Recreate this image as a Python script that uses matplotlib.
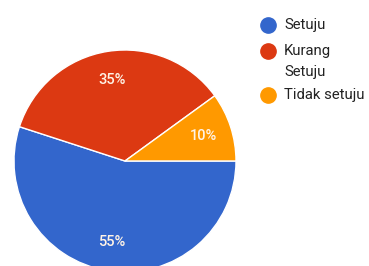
import matplotlib.pyplot as plt

labels = ['Setuju', 'Kurang\nSetuju', 'Tidak setuju']
values = [55, 35, 10]
colors = ['#3366cc', '#dc3912', '#ff9900']

plt.rcParams['font.family'] = ['Roboto', 'DejaVu Sans']

W, H = 369, 266
fig = plt.figure(figsize=(W / 100, H / 100), dpi=100)

# pie centre (125, 161) px, radius 111 px
cx, cy, r = 125, 161, 111
ax = fig.add_axes([(cx - r) / W, (H - cy - r) / H, 2 * r / W, 2 * r / H])
wedges, texts, autotexts = ax.pie(values, colors=colors, startangle=0, counterclock=False,
                                  autopct='%d%%', pctdistance=0.74,
                                  wedgeprops=dict(edgecolor='white', linewidth=1),
                                  textprops=dict(color='#fff3e6', fontsize=10.5,
                                                 fontweight='medium'))
ax.set_xlim(-1, 1)
ax.set_ylim(-1, 1)
ax.set_aspect('equal')
ax.axis('off')

# legend drawn by hand: marker on the first line of each label
lx, tx = 268 / W, 284 / W
ys = [25, 51, 95]
for lab, col, y in zip(labels, colors, ys):
    fig.add_artist(plt.Line2D([lx], [1 - y / H], marker='o', markersize=11,
                              color=col, transform=fig.transFigure))
    for i, line in enumerate(lab.split('\n')):
        fig.text(tx, 1 - (y + 21 * i) / H, line, fontsize=10.7, color='#222222',
                 va='center')

fig.savefig('out.png', dpi=100)
